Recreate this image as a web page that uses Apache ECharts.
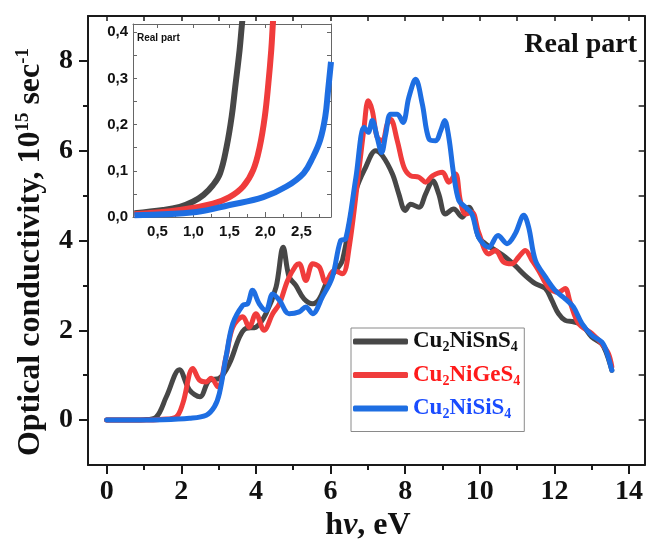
<!DOCTYPE html>
<html><head><meta charset="utf-8">
<script src="https://cdn.jsdelivr.net/npm/echarts@6/dist/echarts.min.js"></script>
<style>html,body{margin:0;padding:0;background:#fff}#c{width:646px;height:541px}</style>
</head><body><div id="c"></div>
<script>
// ---------- data ----------
const seriesNames = ['Cu2NiSnS4', 'Cu2NiGeS4', 'Cu2NiSiS4'];
const xTickValues = [0, 2, 4, 6, 8, 10, 12, 14];
const xMinorTicks = [1, 3, 5, 7, 9, 11, 13];
const yTickValues = [0, 2, 4, 6, 8];
const yMinorTicks = [1, 3, 5, 7];
const insetXTicks = [0.5, 1.0, 1.5, 2.0, 2.5];
const insetXMinor = [0.25, 0.75, 1.25, 1.75, 2.25, 2.75];
const insetYTicks = [0, 0.1, 0.2, 0.3, 0.4];
const insetYMinor = [0.05, 0.15, 0.25, 0.35];

const snEnergy = [0, 0.5, 1.0, 1.33, 1.6, 1.95, 2.22, 2.5, 2.75, 3.02, 3.29, 3.56, 3.73, 4.0, 4.27, 4.54, 4.73, 4.89, 5.07, 5.29, 5.52, 5.70, 5.92, 6.14, 6.32, 6.68, 6.94, 7.21, 7.39, 7.66, 7.83, 8.0, 8.15, 8.37, 8.55, 8.74, 8.9, 9.08, 9.3, 9.53, 9.71, 9.84, 9.97, 10.15, 10.42, 10.69, 10.95, 11.22, 11.49, 11.76, 11.93, 12.11, 12.29, 12.51, 12.74, 13.0, 13.27, 13.4, 13.54];
const snSigma  = [0, 0, 0.01, 0.07, 0.52, 1.12, 0.67, 0.52, 0.89, 0.93, 1.26, 1.85, 2.04, 2.07, 2.37, 2.96, 3.85, 3.19, 3.0, 2.70, 2.59, 2.70, 3.11, 3.33, 3.56, 5.11, 5.63, 6.0, 5.89, 5.48, 5.04, 4.67, 4.81, 4.74, 5.04, 5.33, 5.04, 4.59, 4.70, 4.52, 4.74, 4.52, 4.07, 3.93, 3.78, 3.63, 3.44, 3.22, 3.04, 2.93, 2.67, 2.37, 2.22, 2.19, 2.12, 1.85, 1.70, 1.48, 1.11];

const geEnergy = [0, 1.0, 1.5, 1.86, 2.04, 2.31, 2.49, 2.67, 2.8, 2.98, 3.2, 3.38, 3.65, 3.82, 4.0, 4.22, 4.45, 4.63, 4.85, 5.07, 5.16, 5.34, 5.52, 5.70, 5.87, 6.1, 6.32, 6.5, 6.76, 6.9, 7.01, 7.12, 7.25, 7.39, 7.52, 7.61, 7.79, 7.97, 8.15, 8.37, 8.55, 8.73, 9.0, 9.17, 9.35, 9.48, 9.62, 9.79, 9.97, 10.24, 10.42, 10.64, 10.86, 11.04, 11.22, 11.4, 11.58, 11.84, 12.11, 12.29, 12.42, 12.65, 13.0, 13.27, 13.45, 13.54];
const geSigma  = [0, 0, 0.02, 0.07, 0.37, 1.15, 0.89, 0.85, 0.93, 0.74, 1.41, 2.07, 2.30, 2.07, 2.37, 2.0, 2.37, 2.59, 3.11, 3.44, 3.48, 3.11, 3.48, 3.41, 3.07, 3.33, 3.26, 3.85, 5.56, 6.52, 7.11, 6.89, 6.30, 6.22, 6.59, 6.70, 6.22, 5.63, 5.44, 5.41, 5.30, 5.44, 5.52, 5.30, 5.48, 4.89, 4.59, 4.63, 4.18, 3.70, 3.78, 3.52, 3.48, 3.63, 3.78, 3.56, 3.33, 2.96, 2.85, 2.93, 2.63, 2.15, 1.93, 1.70, 1.48, 1.19];

const siEnergy = [0, 1.5, 2.22, 2.67, 2.89, 3.02, 3.2, 3.38, 3.65, 3.78, 3.91, 4.09, 4.27, 4.45, 4.63, 4.89, 5.16, 5.34, 5.52, 5.78, 6.05, 6.27, 6.41, 6.68, 6.9, 7.01, 7.12, 7.25, 7.37, 7.48, 7.61, 7.79, 7.94, 8.1, 8.28, 8.46, 8.64, 8.82, 8.95, 9.06, 9.17, 9.3, 9.44, 9.62, 9.79, 9.97, 10.24, 10.49, 10.73, 10.95, 11.18, 11.31, 11.49, 11.76, 12.02, 12.29, 12.51, 12.74, 13.0, 13.27, 13.4, 13.54];
const siSigma  = [0, 0.01, 0.04, 0.11, 0.30, 0.59, 1.41, 2.15, 2.56, 2.59, 2.89, 2.59, 2.44, 2.81, 2.67, 2.37, 2.41, 2.52, 2.37, 2.74, 3.19, 4.0, 4.04, 5.4, 6.52, 6.41, 6.67, 6.30, 5.96, 6.37, 6.81, 6.81, 6.63, 7.19, 7.59, 7.04, 6.26, 6.22, 6.44, 6.67, 6.30, 5.48, 4.89, 4.74, 4.59, 4.07, 3.85, 4.11, 3.93, 4.15, 4.56, 4.30, 3.56, 3.19, 2.89, 2.70, 2.52, 2.15, 1.89, 1.74, 1.52, 1.11];

// inset (low-energy zoom)
const snInsetE = [0.18, 0.58, 0.81, 0.99, 1.14, 1.27, 1.37, 1.46, 1.53, 1.58, 1.64, 1.67, 1.70];
const snInsetS = [0.008, 0.015, 0.022, 0.033, 0.048, 0.069, 0.095, 0.152, 0.217, 0.282, 0.361, 0.412, 0.46];
const geInsetE = [0.18, 0.81, 1.27, 1.50, 1.69, 1.83, 1.92, 1.99, 2.04, 2.08, 2.10, 2.12];
const geInsetS = [0.006, 0.015, 0.029, 0.043, 0.066, 0.102, 0.152, 0.217, 0.289, 0.361, 0.412, 0.46];
const siInsetE = [0.18, 1.04, 1.50, 1.97, 2.29, 2.53, 2.66, 2.76, 2.83, 2.87, 2.91];
const siInsetS = [0.004, 0.011, 0.026, 0.043, 0.066, 0.095, 0.130, 0.167, 0.217, 0.275, 0.336];

// ---------- styling ----------
const colors = ['#474747', '#f03c3c', '#1e6ee2'];
const textColors = ['#111111', '#ff1a1a', '#1a4cff'];
const SERIF = 'Liberation Serif';
const SANS = 'Liberation Sans';
const zip = (a, b) => a.map((v, i) => [v, b[i]]);
const comma = v => v.toFixed(1).replace('.', ',');

const chart = echarts.init(document.getElementById('c'), null, {renderer: 'canvas'});

const mainAxisLine = {show: true, onZero: false, lineStyle: {color: '#1a1a1a', width: 2}};
const noLine = {show: false, onZero: false};
const tickLabelStyle = {fontFamily: SERIF, fontWeight: 'bold', fontSize: 28, color: '#111'};
const insetLine = {show: true, onZero: false, lineStyle: {color: '#666', width: 1}};
const insetLabel = {fontFamily: SANS, fontWeight: 'bold', fontSize: 15, color: '#111'};

const legendRich = {};
textColors.forEach((c, i) => {
  legendRich['n' + i] = {fontFamily: SERIF, fontWeight: 'bold', fontSize: 23, color: c, lineHeight: 26};
  legendRich['s' + i] = {fontFamily: SERIF, fontWeight: 'bold', fontSize: 14, color: c, lineHeight: 14, verticalAlign: 'bottom'};
});
const legendFormat = name => {
  const i = seriesNames.indexOf(name);
  const m = name.match(/^Cu2Ni(.*)S4$/);
  return `{n${i}|Cu}{s${i}|2}{n${i}|Ni${m[1]}S}{s${i}|4}`;
};

const option = {
  animation: false,
  backgroundColor: '#fff',
  grid: [
    {left: 88, top: 16, width: 558, height: 449, containLabel: false},
    {left: 133, top: 24, width: 198, height: 193, show: true, backgroundColor: '#fff', borderWidth: 0, z: 5}
  ],
  xAxis: [
    {gridIndex: 0, type: 'value', min: -0.5, max: 14.42, position: 'bottom',
     axisLine: mainAxisLine,
     axisTick: {show: true, inside: false, length: 9, lineStyle: {width: 2, color: '#1a1a1a'}, customValues: xTickValues},
     axisLabel: Object.assign({show: true, margin: 13, customValues: xTickValues}, tickLabelStyle),
     splitLine: {show: false}},
    {gridIndex: 0, type: 'value', min: -0.5, max: 14.42, position: 'bottom', axisLine: noLine,
     axisTick: {show: true, inside: false, length: 5, lineStyle: {width: 2, color: '#1a1a1a'}, customValues: xMinorTicks},
     axisLabel: {show: false}, splitLine: {show: false}},
    {gridIndex: 0, type: 'value', min: -0.5, max: 14.42, position: 'top', axisLine: mainAxisLine,
     axisTick: {show: true, inside: true, length: 5, lineStyle: {width: 1.5, color: '#1a1a1a'}, customValues: xTickValues.concat(xMinorTicks)},
     axisLabel: {show: false}, splitLine: {show: false}},
    {gridIndex: 1, type: 'value', min: 0.16, max: 2.91, position: 'bottom', axisLine: insetLine,
     axisTick: {show: true, inside: true, length: 5, lineStyle: {width: 1, color: '#666'}, customValues: insetXTicks},
     axisLabel: Object.assign({show: true, margin: 7, customValues: insetXTicks, formatter: comma}, insetLabel),
     splitLine: {show: false}, z: 6},
    {gridIndex: 1, type: 'value', min: 0.16, max: 2.91, position: 'bottom', axisLine: noLine,
     axisTick: {show: true, inside: true, length: 3, lineStyle: {width: 1, color: '#666'}, customValues: insetXMinor},
     axisLabel: {show: false}, splitLine: {show: false}, z: 6},
    {gridIndex: 1, type: 'value', min: 0.16, max: 2.91, position: 'top', axisLine: insetLine,
     axisTick: {show: true, inside: true, length: 4, lineStyle: {width: 1, color: '#666'}, customValues: insetXTicks},
     axisLabel: {show: false}, splitLine: {show: false}, z: 6}
  ],
  yAxis: [
    {gridIndex: 0, type: 'value', min: -1, max: 9, position: 'left', axisLine: mainAxisLine,
     axisTick: {show: true, inside: false, length: 9, lineStyle: {width: 2, color: '#1a1a1a'}, customValues: yTickValues},
     axisLabel: Object.assign({show: true, margin: 15, customValues: yTickValues}, tickLabelStyle),
     splitLine: {show: false}},
    {gridIndex: 0, type: 'value', min: -1, max: 9, position: 'left', axisLine: noLine,
     axisTick: {show: true, inside: false, length: 5, lineStyle: {width: 2, color: '#1a1a1a'}, customValues: yMinorTicks},
     axisLabel: {show: false}, splitLine: {show: false}},
    {gridIndex: 0, type: 'value', min: -1, max: 9, position: 'right', axisLine: mainAxisLine,
     axisTick: {show: true, inside: true, length: 6, lineStyle: {width: 1.5, color: '#1a1a1a'}, customValues: yTickValues.concat(yMinorTicks)},
     axisLabel: {show: false}, splitLine: {show: false}},
    {gridIndex: 1, type: 'value', min: 0, max: 0.418, position: 'left', axisLine: insetLine,
     axisTick: {show: true, inside: true, length: 4, lineStyle: {width: 1, color: '#666'}, customValues: insetYTicks.concat(insetYMinor)},
     axisLabel: Object.assign({show: true, margin: 5, customValues: insetYTicks, formatter: comma}, insetLabel),
     splitLine: {show: false}, z: 6},
    {gridIndex: 1, type: 'value', min: 0, max: 0.418, position: 'right', axisLine: insetLine,
     axisTick: {show: true, inside: true, length: 4, lineStyle: {width: 1, color: '#666'}, customValues: insetYTicks.concat(insetYMinor)},
     axisLabel: {show: false}, splitLine: {show: false}, z: 6}
  ],
  legend: {
    left: 351, top: 328, orient: 'vertical', selectedMode: false,
    icon: 'roundRect', itemWidth: 55, itemHeight: 6, itemGap: 9,
    padding: [2, 4, 10, 2],
    backgroundColor: '#fff', borderColor: '#8a8a8a', borderWidth: 1, borderRadius: 0,
    data: seriesNames,
    formatter: legendFormat,
    textStyle: {rich: legendRich}
  },
  graphic: [
    {type: 'text', x: 637, y: 45, z: 10,
     style: {text: 'Real part', font: `bold 28px "${SERIF}"`, fill: '#111', align: 'right', verticalAlign: 'middle'}},
    {type: 'text', x: 137, y: 38, z: 10,
     style: {text: 'Real part', font: `bold 10px "${SANS}"`, fill: '#111', align: 'left', verticalAlign: 'middle'}},
    {type: 'text', x: 368, y: 526, z: 10,
     style: {text: '{n|h}{i|ν}{n|, eV}', align: 'center', verticalAlign: 'middle',
       rich: {n: {fontFamily: SERIF, fontWeight: 'bold', fontSize: 32, fill: '#111', color: '#111'},
              i: {fontFamily: SERIF, fontWeight: 'bold', fontStyle: 'italic', fontSize: 32, fill: '#111', color: '#111'}}}},
    {type: 'text', x: 31, y: 252, rotation: Math.PI / 2, z: 10,
     style: {text: '{n|Optical conductivity, 10}{s|15}{n| sec}{s|-1}', align: 'center', verticalAlign: 'middle',
       rich: {n: {fontFamily: SERIF, fontWeight: 'bold', fontSize: 32, lineHeight: 34, color: '#111', fill: '#111'},
              s: {fontFamily: SERIF, fontWeight: 'bold', fontSize: 19, lineHeight: 19, verticalAlign: 'top', color: '#111', fill: '#111'}}}}
  ],
  series: [
    {name: seriesNames[0], type: 'line', xAxisIndex: 0, yAxisIndex: 0, data: zip(snEnergy, snSigma), symbol: 'none', smooth: 0.35,
     lineStyle: {color: colors[0], width: 5, cap: 'round', join: 'round'}, itemStyle: {color: colors[0]}, z: 2},
    {name: seriesNames[1], type: 'line', xAxisIndex: 0, yAxisIndex: 0, data: zip(geEnergy, geSigma), symbol: 'none', smooth: 0.35,
     lineStyle: {color: colors[1], width: 5, cap: 'round', join: 'round'}, itemStyle: {color: colors[1]}, z: 3},
    {name: seriesNames[2], type: 'line', xAxisIndex: 0, yAxisIndex: 0, data: zip(siEnergy, siSigma), symbol: 'none', smooth: 0.35,
     lineStyle: {color: colors[2], width: 5, cap: 'round', join: 'round'}, itemStyle: {color: colors[2]}, z: 4},
    {name: 'inset-Sn', type: 'line', xAxisIndex: 3, yAxisIndex: 3, data: zip(snInsetE, snInsetS), symbol: 'none', smooth: 0.4, clip: true,
     lineStyle: {color: colors[0], width: 6}, z: 7},
    {name: 'inset-Ge', type: 'line', xAxisIndex: 3, yAxisIndex: 3, data: zip(geInsetE, geInsetS), symbol: 'none', smooth: 0.4, clip: true,
     lineStyle: {color: colors[1], width: 6}, z: 7},
    {name: 'inset-Si', type: 'line', xAxisIndex: 3, yAxisIndex: 3, data: zip(siInsetE, siInsetS), symbol: 'none', smooth: 0.4, clip: true,
     lineStyle: {color: colors[2], width: 6}, z: 7}
  ]
};
chart.setOption(option);
</script>
</body></html>
